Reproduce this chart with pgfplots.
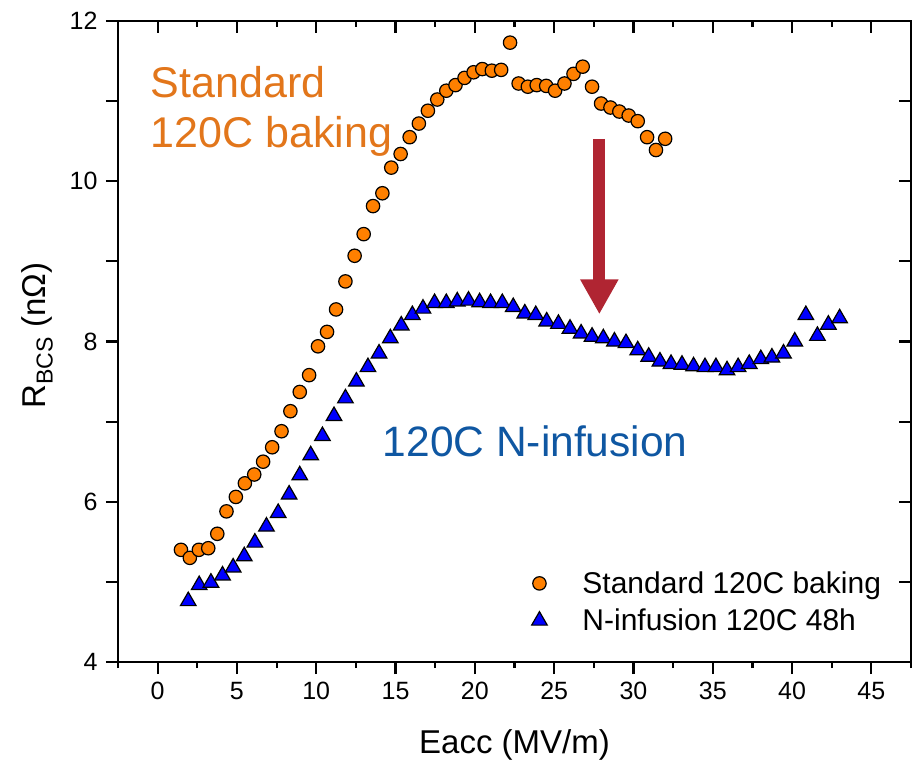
\documentclass[border=0pt]{standalone}
\usepackage{fontspec}
\setmainfont{Liberation Sans}
\usepackage{pgfplots}
\pgfplotsset{compat=1.18}
\usetikzlibrary{arrows.meta}
\definecolor{orgfill}{HTML}{FF8000}
\definecolor{orgtext}{HTML}{E2761B}
\definecolor{bluetext}{HTML}{0F57A2}
\definecolor{arrowred}{HTML}{B02532}
\begin{document}
\begin{tikzpicture}
\useasboundingbox (-118pt,-98pt) rectangle (797pt,662pt);
\pgfplotsset{
  common/.style={
    at={(0pt,0pt)}, anchor=south west,
    width=793pt, height=641pt, scale only axis,
    xmin=-2.5, xmax=47.5, ymin=4, ymax=12,
    xtick={0,5,...,45}, minor xtick={-2.5,2.5,...,47.5},
    ytick={4,5,...,12},
    major tick length=12pt, minor tick length=6pt,
    axis line style={line width=2.5pt, black},
    every tick/.style={line width=2.2pt, black},
  }
}
\begin{axis}[common,
  tick align=outside, xtick pos=bottom, ytick pos=left,
  yticklabels={4,,6,,8,,10,,12},
  /pgf/number format/assume math mode=true,
  ticklabel style={font=\fontsize{25}{30}\selectfont},
  xticklabel style={yshift=-5pt},
  yticklabel style={xshift=-5pt},
  xlabel={Eacc (MV/m)},
  ylabel={R\textsubscript{BCS} (nΩ)},
  xlabel style={font=\fontsize{33}{40}\selectfont, at={(axis description cs:0.5,0)}, anchor=base, yshift=-91pt},
  ylabel style={font=\fontsize{33}{40}\selectfont, at={(axis description cs:-0.102,0.509)}, anchor=center},
  legend style={draw=none, fill=none, at={(axis cs:22.8,5.13)}, anchor=north west,
    font=\fontsize{30}{36}\selectfont, inner sep=0pt, row sep=14pt,
    nodes={inner sep=0pt, anchor=base west}},
  legend cell align=left,
  legend image code/.code={\path[draw=none,fill=none] (-20pt,0pt) rectangle (43pt,20pt); \draw[#1] plot coordinates {(0pt,10pt)};},
]
\addplot[only marks, mark=*, mark size=6.7pt, mark options={fill=orgfill, draw=black, line width=1.2pt}] coordinates {
(1.47,5.40) (2.03,5.30) (2.60,5.40) (3.19,5.42) (3.76,5.60) (4.34,5.88) (4.93,6.06) (5.50,6.23)
(6.09,6.34) (6.65,6.50) (7.22,6.68) (7.81,6.88) (8.37,7.13) (8.96,7.37) (9.55,7.58) (10.11,7.94)
(10.68,8.12) (11.25,8.40) (11.84,8.75) (12.42,9.07) (12.99,9.34) (13.58,9.69) (14.17,9.85)
(14.73,10.17) (15.32,10.34) (15.89,10.55) (16.47,10.72) (17.04,10.88) (17.63,11.02) (18.20,11.13)
(18.78,11.20) (19.35,11.29) (19.92,11.36) (20.47,11.40) (21.07,11.38) (21.66,11.39) (22.22,11.73)
(22.76,11.22) (23.34,11.18) (23.90,11.20) (24.50,11.19) (25.06,11.13) (25.65,11.22) (26.22,11.34)
(26.80,11.43) (27.39,11.18) (27.96,10.97) (28.55,10.92) (29.11,10.87) (29.70,10.82) (30.27,10.75)
(30.86,10.55) (31.42,10.39) (32.00,10.53)
};
\addlegendentry{Standard 120C baking}
\addplot[only marks, mark=triangle*, mark size=9pt, mark options={fill=blue, draw=black, line width=1.2pt}] coordinates {
(1.93,4.76) (2.62,4.96) (3.36,4.99) (4.09,5.08) (4.76,5.18) (5.46,5.32) (6.13,5.49) (6.86,5.69)
(7.60,5.86) (8.29,6.09) (8.96,6.33) (9.65,6.58) (10.39,6.82) (11.12,7.07) (11.84,7.29) (12.53,7.50)
(13.26,7.68) (13.96,7.85) (14.67,8.04) (15.36,8.20) (16.06,8.33) (16.73,8.41) (17.46,8.48) (18.20,8.48)
(18.89,8.50) (19.60,8.51) (20.30,8.49) (20.99,8.48) (21.73,8.48) (22.42,8.43) (23.15,8.35) (23.84,8.33)
(24.53,8.25) (25.27,8.22) (26.00,8.16) (26.70,8.10) (27.39,8.06) (28.10,8.04) (28.80,8.00) (29.53,7.98)
(30.27,7.89) (30.96,7.81) (31.67,7.75) (32.37,7.72) (33.06,7.71) (33.79,7.69) (34.51,7.68) (35.20,7.68)
(35.90,7.64) (36.60,7.68) (37.30,7.72) (38.03,7.78) (38.73,7.80) (39.46,7.85) (40.17,8.00) (40.87,8.33)
(41.60,8.07) (42.29,8.21) (43.00,8.29)
};
\addlegendentry{N-infusion 120C 48h}
\node[anchor=base west, inner sep=0pt, text=orgtext, font=\fontsize{43}{50}\selectfont] at (axis cs:-0.44,11.05) {Standard};
\node[anchor=base west, inner sep=0pt, text=orgtext, font=\fontsize{43}{50}\selectfont] at (axis cs:-0.44,10.42) {120C baking};
\node[anchor=base west, inner sep=0pt, text=bluetext, font=\fontsize{42.5}{50}\selectfont] at (axis cs:14.19,6.57) {120C N-infusion};
\draw[arrowred, line width=12pt, -{Triangle[width=36pt,length=35pt]}] (axis cs:27.85,10.53) -- (axis cs:27.85,8.34);
\end{axis}
\begin{axis}[common,
  tick align=inside, xtick pos=top, ytick pos=right,
  xticklabels={}, yticklabels={},
]
\end{axis}
\end{tikzpicture}
\end{document}
